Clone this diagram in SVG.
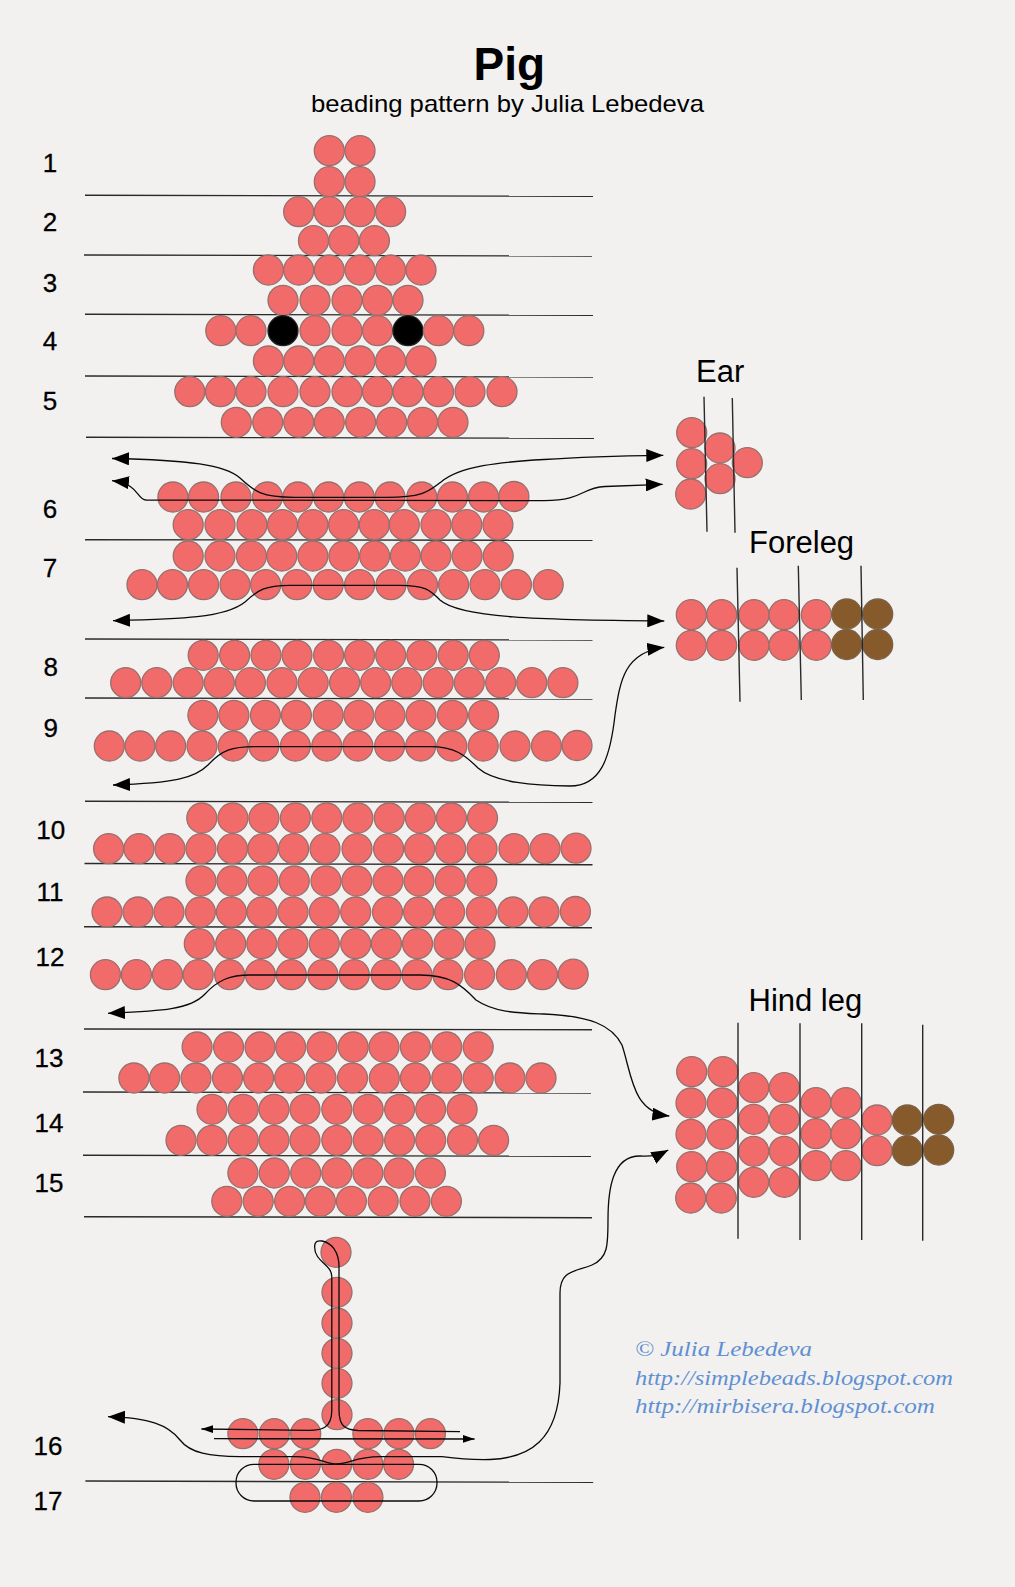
<svg xmlns="http://www.w3.org/2000/svg" width="1015" height="1587" viewBox="0 0 1015 1587">
<style>
text{font-family:"Liberation Sans",Arial,sans-serif;fill:#000}
.h{font-size:31px}
.n{font-size:26px;text-anchor:middle;stroke:#000;stroke-width:.3}
.s{font-family:"Liberation Serif","DejaVu Serif",serif;font-style:italic;font-size:22px;fill:#5f90d2}
circle{stroke-width:1.3}
.b{fill:#f16b6b;stroke:#96706c}
.k{fill:#000;stroke:#222}
.w{fill:#875a2c;stroke:#7a6248}
.l{stroke:#2a2a2a;stroke-width:1.4;fill:none}
.t{stroke:#0a0a0a;stroke-width:1.3;fill:none}
</style>
<defs>
<marker id="big" viewBox="0 0 17 13" refX="17" refY="6.5" markerWidth="17" markerHeight="13" markerUnits="userSpaceOnUse" orient="auto-start-reverse"><path d="M0,0L17,6.5L0,13z" fill="#000"/></marker>
<marker id="sm" viewBox="0 0 12 8" refX="12" refY="4" markerWidth="12" markerHeight="8" markerUnits="userSpaceOnUse" orient="auto-start-reverse"><path d="M0,0L12,4L0,8z" fill="#000"/></marker>
</defs>
<rect width="1015" height="1587" fill="#f2f1f0"/>
<g id="title">
<text x="473.5" y="80" font-size="46" font-weight="bold">Pig</text>
<text x="311" y="112" font-size="24" textLength="393" lengthAdjust="spacingAndGlyphs">beading pattern by Julia Lebedeva</text>
</g>
<g id="row-numbers" class="nums">
<text class="n" x="50" y="172">1</text>
<text class="n" x="50" y="231">2</text>
<text class="n" x="50" y="292">3</text>
<text class="n" x="50" y="350">4</text>
<text class="n" x="50" y="410">5</text>
<text class="n" x="50" y="517.5">6</text>
<text class="n" x="50" y="577">7</text>
<text class="n" x="50.7" y="676">8</text>
<text class="n" x="50.7" y="737">9</text>
<text class="n" x="50.7" y="838.5">10</text>
<text class="n" x="50" y="901">11</text>
<text class="n" x="50" y="966">12</text>
<text class="n" x="49" y="1067">13</text>
<text class="n" x="49" y="1132">14</text>
<text class="n" x="49" y="1192">15</text>
<text class="n" x="48" y="1455">16</text>
<text class="n" x="48" y="1510">17</text>
</g>
<g id="row-lines">
<line class="l" x1="85" y1="195.3" x2="593" y2="196.3"/>
<line class="l" x1="84" y1="255" x2="592" y2="256"/>
<line class="l" x1="85" y1="314.3" x2="593" y2="315.3"/>
<line class="l" x1="85" y1="376" x2="593" y2="377"/>
<line class="l" x1="86" y1="437.3" x2="594" y2="438.3"/>
<line class="l" x1="85" y1="539.7" x2="592.5" y2="540.3"/>
<line class="l" x1="85" y1="639" x2="592.5" y2="640"/>
<line class="l" x1="85" y1="698" x2="592.5" y2="699"/>
<line class="l" x1="85" y1="801.3" x2="592.5" y2="802.3"/>
<line class="l" x1="84.5" y1="863.5" x2="592.5" y2="864.7"/>
<line class="l" x1="84" y1="926.7" x2="592" y2="927.7"/>
<line class="l" x1="84" y1="1029" x2="592" y2="1029.7"/>
<line class="l" x1="83" y1="1092" x2="591" y2="1093"/>
<line class="l" x1="83" y1="1155.3" x2="591" y2="1156.3"/>
<line class="l" x1="84" y1="1216.7" x2="592" y2="1217.7"/>
<line class="l" x1="85.4" y1="1481" x2="593.2" y2="1482.3"/>
</g>
<g id="body" class="beads">
<g id="row1">
<circle class="b" cx="329.3" cy="150.7" r="15"/><circle class="b" cx="360" cy="150.7" r="15"/>
<circle class="b" cx="329.3" cy="181.7" r="15"/><circle class="b" cx="360" cy="181.7" r="15"/>
</g>
<g id="row2">
<circle class="b" cx="298.7" cy="211.7" r="15"/><circle class="b" cx="329.3" cy="211.7" r="15"/><circle class="b" cx="360" cy="211.7" r="15"/><circle class="b" cx="390.6" cy="211.7" r="15"/>
<circle class="b" cx="313.5" cy="240.7" r="15"/><circle class="b" cx="343.8" cy="240.7" r="15"/><circle class="b" cx="374.4" cy="240.7" r="15"/>
</g>
<g id="row3">
<circle class="b" cx="268.4" cy="270" r="15"/><circle class="b" cx="298.7" cy="270" r="15"/><circle class="b" cx="329.3" cy="270" r="15"/><circle class="b" cx="360" cy="270" r="15"/><circle class="b" cx="390.6" cy="270" r="15"/><circle class="b" cx="421" cy="270" r="15"/>
<circle class="b" cx="283" cy="300.3" r="15"/><circle class="b" cx="315" cy="300.3" r="15"/><circle class="b" cx="347" cy="300.3" r="15"/><circle class="b" cx="377.5" cy="300.3" r="15"/><circle class="b" cx="408" cy="300.3" r="15"/>
</g>
<g id="row4">
<circle class="b" cx="220.8" cy="330.7" r="15"/><circle class="b" cx="251" cy="330.7" r="15"/><circle class="k" cx="283" cy="330.7" r="15"/><circle class="b" cx="315" cy="330.7" r="15"/><circle class="b" cx="347" cy="330.7" r="15"/><circle class="b" cx="377.5" cy="330.7" r="15"/><circle class="k" cx="408" cy="330.7" r="15"/><circle class="b" cx="438.5" cy="330.7" r="15"/><circle class="b" cx="468.8" cy="330.7" r="15"/>
<circle class="b" cx="268.4" cy="361" r="15"/><circle class="b" cx="298.7" cy="361" r="15"/><circle class="b" cx="329.3" cy="361" r="15"/><circle class="b" cx="360" cy="361" r="15"/><circle class="b" cx="390.6" cy="361" r="15"/><circle class="b" cx="421" cy="361" r="15"/>
</g>
<g id="row5">
<circle class="b" cx="189.8" cy="391.7" r="15"/><circle class="b" cx="220.5" cy="391.7" r="15"/><circle class="b" cx="251" cy="391.7" r="15"/><circle class="b" cx="283" cy="391.7" r="15"/><circle class="b" cx="315" cy="391.7" r="15"/><circle class="b" cx="347" cy="391.7" r="15"/><circle class="b" cx="377.5" cy="391.7" r="15"/><circle class="b" cx="408" cy="391.7" r="15"/><circle class="b" cx="438.5" cy="391.7" r="15"/><circle class="b" cx="470" cy="391.7" r="15"/><circle class="b" cx="502" cy="391.7" r="15"/>
<circle class="b" cx="236.3" cy="422.3" r="15"/><circle class="b" cx="267.7" cy="422.3" r="15"/><circle class="b" cx="298.7" cy="422.3" r="15"/><circle class="b" cx="329.3" cy="422.3" r="15"/><circle class="b" cx="360.6" cy="422.3" r="15"/><circle class="b" cx="391.6" cy="422.3" r="15"/><circle class="b" cx="422.6" cy="422.3" r="15"/><circle class="b" cx="453" cy="422.3" r="15"/>
</g>
<g id="row6">
<circle class="b" cx="172.9" cy="497" r="15"/><circle class="b" cx="203.6" cy="497" r="15"/><circle class="b" cx="236" cy="497" r="15"/><circle class="b" cx="267.5" cy="497" r="15"/><circle class="b" cx="297.9" cy="497" r="15"/><circle class="b" cx="328.6" cy="497" r="15"/><circle class="b" cx="359.3" cy="497" r="15"/><circle class="b" cx="390" cy="497" r="15"/><circle class="b" cx="421.8" cy="497" r="15"/><circle class="b" cx="452.5" cy="497" r="15"/><circle class="b" cx="483.6" cy="497" r="15"/><circle class="b" cx="513.9" cy="496.5" r="15"/>
<circle class="b" cx="188.2" cy="524.7" r="15"/><circle class="b" cx="220" cy="524.7" r="15"/><circle class="b" cx="252" cy="524.7" r="15"/><circle class="b" cx="282.5" cy="524.7" r="15"/><circle class="b" cx="312.9" cy="524.7" r="15"/><circle class="b" cx="343.6" cy="524.7" r="15"/><circle class="b" cx="374.3" cy="524.7" r="15"/><circle class="b" cx="404.3" cy="524.7" r="15"/><circle class="b" cx="436" cy="524.7" r="15"/><circle class="b" cx="466.8" cy="524.7" r="15"/><circle class="b" cx="497.9" cy="524.7" r="15"/>
</g>
<g id="row7">
<circle class="b" cx="188.2" cy="556" r="15"/><circle class="b" cx="220" cy="556" r="15"/><circle class="b" cx="251.4" cy="556" r="15"/><circle class="b" cx="281.8" cy="556" r="15"/><circle class="b" cx="312.9" cy="556" r="15"/><circle class="b" cx="343.9" cy="556" r="15"/><circle class="b" cx="374.6" cy="556" r="15"/><circle class="b" cx="405.4" cy="556" r="15"/><circle class="b" cx="436" cy="556" r="15"/><circle class="b" cx="467.1" cy="556" r="15"/><circle class="b" cx="498.2" cy="556" r="15"/>
<circle class="b" cx="142" cy="584.7" r="15"/><circle class="b" cx="172.5" cy="584.7" r="15"/><circle class="b" cx="203.6" cy="584.7" r="15"/><circle class="b" cx="235" cy="584.7" r="15"/><circle class="b" cx="265.7" cy="584.7" r="15"/><circle class="b" cx="296.8" cy="584.7" r="15"/><circle class="b" cx="328.2" cy="584.7" r="15"/><circle class="b" cx="359.6" cy="584.7" r="15"/><circle class="b" cx="391" cy="584.7" r="15"/><circle class="b" cx="422.5" cy="584.7" r="15"/><circle class="b" cx="453.6" cy="584.7" r="15"/><circle class="b" cx="485" cy="584.7" r="15"/><circle class="b" cx="516.4" cy="584.7" r="15"/><circle class="b" cx="548.2" cy="584.7" r="15"/>
</g>
<g id="row8">
<circle class="b" cx="203.2" cy="655.3" r="15"/><circle class="b" cx="234.6" cy="655.3" r="15"/><circle class="b" cx="266" cy="655.3" r="15"/><circle class="b" cx="297" cy="655.3" r="15"/><circle class="b" cx="328.6" cy="655.3" r="15"/><circle class="b" cx="359.6" cy="655.3" r="15"/><circle class="b" cx="390.7" cy="655.3" r="15"/><circle class="b" cx="421.8" cy="655.3" r="15"/><circle class="b" cx="453.2" cy="655.3" r="15"/><circle class="b" cx="484.3" cy="655.3" r="15"/>
<circle class="b" cx="125.7" cy="682.7" r="15"/><circle class="b" cx="156.8" cy="682.7" r="15"/><circle class="b" cx="188.2" cy="682.7" r="15"/><circle class="b" cx="219.3" cy="682.7" r="15"/><circle class="b" cx="250.4" cy="682.7" r="15"/><circle class="b" cx="282" cy="682.7" r="15"/><circle class="b" cx="313.2" cy="682.7" r="15"/><circle class="b" cx="344.6" cy="682.7" r="15"/><circle class="b" cx="375.7" cy="682.7" r="15"/><circle class="b" cx="406.8" cy="682.7" r="15"/><circle class="b" cx="438.2" cy="682.7" r="15"/><circle class="b" cx="469.3" cy="682.7" r="15"/><circle class="b" cx="500.7" cy="682.7" r="15"/><circle class="b" cx="531.8" cy="682.7" r="15"/><circle class="b" cx="562.9" cy="682.7" r="15"/>
</g>
<g id="row9">
<circle class="b" cx="202.9" cy="715.3" r="15"/><circle class="b" cx="233.9" cy="715.3" r="15"/><circle class="b" cx="265.4" cy="715.3" r="15"/><circle class="b" cx="296.4" cy="715.3" r="15"/><circle class="b" cx="328.2" cy="715.3" r="15"/><circle class="b" cx="358.9" cy="715.3" r="15"/><circle class="b" cx="390" cy="715.3" r="15"/><circle class="b" cx="421" cy="715.3" r="15"/><circle class="b" cx="452.5" cy="715.3" r="15"/><circle class="b" cx="483.6" cy="715.3" r="15"/>
<circle class="b" cx="109.3" cy="746" r="15"/><circle class="b" cx="140" cy="746" r="15"/><circle class="b" cx="170.7" cy="746" r="15"/><circle class="b" cx="202" cy="746" r="15"/><circle class="b" cx="233.2" cy="746" r="15"/><circle class="b" cx="263.9" cy="746" r="15"/><circle class="b" cx="295.4" cy="746" r="15"/><circle class="b" cx="326.8" cy="746" r="15"/><circle class="b" cx="357.9" cy="746" r="15"/><circle class="b" cx="389.6" cy="746" r="15"/><circle class="b" cx="420.7" cy="746" r="15"/><circle class="b" cx="451.8" cy="746" r="15"/><circle class="b" cx="483.2" cy="746" r="15"/><circle class="b" cx="515" cy="746" r="15"/><circle class="b" cx="546.4" cy="746" r="15"/><circle class="b" cx="577" cy="745.5" r="15"/>
</g>
<g id="row10">
<circle class="b" cx="201.8" cy="818" r="15"/><circle class="b" cx="232.9" cy="818" r="15"/><circle class="b" cx="263.9" cy="818" r="15"/><circle class="b" cx="295.4" cy="818" r="15"/><circle class="b" cx="326.8" cy="818" r="15"/><circle class="b" cx="357.9" cy="818" r="15"/><circle class="b" cx="389.3" cy="818" r="15"/><circle class="b" cx="420.4" cy="818" r="15"/><circle class="b" cx="451.4" cy="818" r="15"/><circle class="b" cx="482.5" cy="818" r="15"/>
<circle class="b" cx="108.6" cy="848.7" r="15"/><circle class="b" cx="139" cy="848.7" r="15"/><circle class="b" cx="170" cy="848.7" r="15"/><circle class="b" cx="201" cy="848.7" r="15"/><circle class="b" cx="232.5" cy="848.7" r="15"/><circle class="b" cx="262.9" cy="848.7" r="15"/><circle class="b" cx="293.6" cy="848.7" r="15"/><circle class="b" cx="325" cy="848.7" r="15"/><circle class="b" cx="357" cy="848.7" r="15"/><circle class="b" cx="388.6" cy="848.7" r="15"/><circle class="b" cx="419.6" cy="848.7" r="15"/><circle class="b" cx="450.7" cy="848.7" r="15"/><circle class="b" cx="482" cy="848.7" r="15"/><circle class="b" cx="514" cy="848.7" r="15"/><circle class="b" cx="545" cy="848.7" r="15"/><circle class="b" cx="576" cy="848.2" r="15"/>
</g>
<g id="row11">
<circle class="b" cx="201" cy="881" r="15"/><circle class="b" cx="232" cy="881" r="15"/><circle class="b" cx="263" cy="881" r="15"/><circle class="b" cx="294.3" cy="881" r="15"/><circle class="b" cx="326" cy="881" r="15"/><circle class="b" cx="356.8" cy="881" r="15"/><circle class="b" cx="388" cy="881" r="15"/><circle class="b" cx="419" cy="881" r="15"/><circle class="b" cx="450.4" cy="881" r="15"/><circle class="b" cx="481.8" cy="881" r="15"/>
<circle class="b" cx="107" cy="912" r="15"/><circle class="b" cx="138" cy="912" r="15"/><circle class="b" cx="169" cy="912" r="15"/><circle class="b" cx="200.4" cy="912" r="15"/><circle class="b" cx="231.4" cy="912" r="15"/><circle class="b" cx="262" cy="912" r="15"/><circle class="b" cx="293" cy="912" r="15"/><circle class="b" cx="324.3" cy="912" r="15"/><circle class="b" cx="355.7" cy="912" r="15"/><circle class="b" cx="387.5" cy="912" r="15"/><circle class="b" cx="418.6" cy="912" r="15"/><circle class="b" cx="449.6" cy="912" r="15"/><circle class="b" cx="481.4" cy="912" r="15"/><circle class="b" cx="512.9" cy="912" r="15"/><circle class="b" cx="544" cy="912" r="15"/><circle class="b" cx="575.4" cy="911.5" r="15"/>
</g>
<g id="row12">
<circle class="b" cx="199.3" cy="943.7" r="15"/><circle class="b" cx="230.7" cy="943.7" r="15"/><circle class="b" cx="261.8" cy="943.7" r="15"/><circle class="b" cx="292.9" cy="943.7" r="15"/><circle class="b" cx="324.3" cy="943.7" r="15"/><circle class="b" cx="355.7" cy="943.7" r="15"/><circle class="b" cx="386.4" cy="943.7" r="15"/><circle class="b" cx="417.5" cy="943.7" r="15"/><circle class="b" cx="449" cy="943.7" r="15"/><circle class="b" cx="480" cy="943.7" r="15"/>
<circle class="b" cx="105.4" cy="974.7" r="15"/><circle class="b" cx="136.4" cy="974.7" r="15"/><circle class="b" cx="167.5" cy="974.7" r="15"/><circle class="b" cx="198.2" cy="974.7" r="15"/><circle class="b" cx="229.6" cy="974.7" r="15"/><circle class="b" cx="260.4" cy="974.7" r="15"/><circle class="b" cx="291.4" cy="974.7" r="15"/><circle class="b" cx="322.9" cy="974.7" r="15"/><circle class="b" cx="354.3" cy="974.7" r="15"/><circle class="b" cx="386" cy="974.7" r="15"/><circle class="b" cx="417" cy="974.7" r="15"/><circle class="b" cx="447.9" cy="974.7" r="15"/><circle class="b" cx="479.6" cy="974.7" r="15"/><circle class="b" cx="511.4" cy="974.7" r="15"/><circle class="b" cx="542.5" cy="974.7" r="15"/><circle class="b" cx="573.2" cy="974.2" r="15"/>
</g>
<g id="row13">
<circle class="b" cx="197.1" cy="1047" r="15"/><circle class="b" cx="228.6" cy="1047" r="15"/><circle class="b" cx="260" cy="1047" r="15"/><circle class="b" cx="290.7" cy="1047" r="15"/><circle class="b" cx="322" cy="1047" r="15"/><circle class="b" cx="353.2" cy="1047" r="15"/><circle class="b" cx="384" cy="1047" r="15"/><circle class="b" cx="415.4" cy="1047" r="15"/><circle class="b" cx="446.8" cy="1047" r="15"/><circle class="b" cx="478.2" cy="1047" r="15"/>
<circle class="b" cx="133.9" cy="1078" r="15"/><circle class="b" cx="164.6" cy="1078" r="15"/><circle class="b" cx="196" cy="1078" r="15"/><circle class="b" cx="227.5" cy="1078" r="15"/><circle class="b" cx="258.6" cy="1078" r="15"/><circle class="b" cx="289.6" cy="1078" r="15"/><circle class="b" cx="321" cy="1078" r="15"/><circle class="b" cx="352.5" cy="1078" r="15"/><circle class="b" cx="384.3" cy="1078" r="15"/><circle class="b" cx="415.4" cy="1078" r="15"/><circle class="b" cx="446.8" cy="1078" r="15"/><circle class="b" cx="478.2" cy="1078" r="15"/><circle class="b" cx="510" cy="1078" r="15"/><circle class="b" cx="541" cy="1078" r="15"/>
</g>
<g id="row14">
<circle class="b" cx="212" cy="1109.3" r="15"/><circle class="b" cx="243.2" cy="1109.3" r="15"/><circle class="b" cx="274" cy="1109.3" r="15"/><circle class="b" cx="305" cy="1109.3" r="15"/><circle class="b" cx="336.8" cy="1109.3" r="15"/><circle class="b" cx="368.2" cy="1109.3" r="15"/><circle class="b" cx="399.6" cy="1109.3" r="15"/><circle class="b" cx="430.7" cy="1109.3" r="15"/><circle class="b" cx="462.1" cy="1109.3" r="15"/>
<circle class="b" cx="181" cy="1140.3" r="15"/><circle class="b" cx="212" cy="1140.3" r="15"/><circle class="b" cx="243.2" cy="1140.3" r="15"/><circle class="b" cx="274" cy="1140.3" r="15"/><circle class="b" cx="305" cy="1140.3" r="15"/><circle class="b" cx="336.8" cy="1140.3" r="15"/><circle class="b" cx="368.2" cy="1140.3" r="15"/><circle class="b" cx="399.6" cy="1140.3" r="15"/><circle class="b" cx="430.7" cy="1140.3" r="15"/><circle class="b" cx="462.5" cy="1140.3" r="15"/><circle class="b" cx="493.6" cy="1140.3" r="15"/>
</g>
<g id="row15">
<circle class="b" cx="242.9" cy="1173" r="15"/><circle class="b" cx="274.3" cy="1173" r="15"/><circle class="b" cx="305.7" cy="1173" r="15"/><circle class="b" cx="336.8" cy="1173" r="15"/><circle class="b" cx="367.9" cy="1173" r="15"/><circle class="b" cx="399" cy="1173" r="15"/><circle class="b" cx="430.4" cy="1173" r="15"/>
<circle class="b" cx="226.8" cy="1201.3" r="15"/><circle class="b" cx="258.2" cy="1201.3" r="15"/><circle class="b" cx="289.6" cy="1201.3" r="15"/><circle class="b" cx="320.4" cy="1201.3" r="15"/><circle class="b" cx="351.4" cy="1201.3" r="15"/><circle class="b" cx="383.2" cy="1201.3" r="15"/><circle class="b" cx="415" cy="1201.3" r="15"/><circle class="b" cx="446.4" cy="1201.3" r="15"/>
</g>
<g id="tail">
<circle class="b" cx="336" cy="1252.3" r="15"/><circle class="b" cx="337" cy="1292.3" r="15"/><circle class="b" cx="337" cy="1323" r="15"/><circle class="b" cx="337" cy="1353.3" r="15"/><circle class="b" cx="337" cy="1383.3" r="15"/><circle class="b" cx="337" cy="1414.7" r="15"/>
</g>
<g id="row16">
<circle class="b" cx="242.9" cy="1433.7" r="15"/><circle class="b" cx="274.3" cy="1433.7" r="15"/><circle class="b" cx="305.7" cy="1433.7" r="15"/><circle class="b" cx="367.9" cy="1433.7" r="15"/><circle class="b" cx="399" cy="1433.7" r="15"/><circle class="b" cx="430.4" cy="1433.7" r="15"/>
<circle class="b" cx="273.9" cy="1464.3" r="15"/><circle class="b" cx="305.4" cy="1464.3" r="15"/><circle class="b" cx="336.8" cy="1464.3" r="15"/><circle class="b" cx="367.9" cy="1464.3" r="15"/><circle class="b" cx="398.6" cy="1464.3" r="15"/>
</g>
<g id="row17">
<circle class="b" cx="305" cy="1497.3" r="15"/><circle class="b" cx="336.4" cy="1497.3" r="15"/><circle class="b" cx="367.9" cy="1497.3" r="15"/>
</g>
</g>
<g id="ear">
<circle class="b" cx="691.7" cy="432.7" r="15"/><circle class="b" cx="691.7" cy="463.7" r="15"/><circle class="b" cx="690.7" cy="494" r="15"/><circle class="b" cx="720" cy="448" r="15"/><circle class="b" cx="720" cy="478.7" r="15"/><circle class="b" cx="747.3" cy="462.7" r="15"/>
<line class="l" x1="704" y1="396.7" x2="707" y2="531.7"/><line class="l" x1="732.3" y1="398" x2="735" y2="532.7"/>
<text class="h" x="696" y="381.7">Ear</text>
</g>
<g id="foreleg">
<circle class="b" cx="691.3" cy="614.7" r="15"/><circle class="b" cx="721.7" cy="614.7" r="15"/><circle class="b" cx="754" cy="614.7" r="15"/><circle class="b" cx="784" cy="614.7" r="15"/><circle class="b" cx="816.3" cy="614.7" r="15"/><circle class="w" cx="846.7" cy="614" r="15"/><circle class="w" cx="877.7" cy="614" r="15"/>
<circle class="b" cx="691.3" cy="645.3" r="15"/><circle class="b" cx="721.7" cy="645.3" r="15"/><circle class="b" cx="754" cy="645.3" r="15"/><circle class="b" cx="784" cy="645.3" r="15"/><circle class="b" cx="816.3" cy="645.3" r="15"/><circle class="w" cx="846.7" cy="644.5" r="15"/><circle class="w" cx="877.7" cy="644.5" r="15"/>
<line class="l" x1="737" y1="567.7" x2="740" y2="701.7"/><line class="l" x1="798.3" y1="565.7" x2="801.3" y2="700"/><line class="l" x1="861" y1="565.7" x2="863.3" y2="700"/>
<text class="h" x="749" y="553.3">Foreleg</text>
</g>
<g id="hindleg">
<circle class="b" cx="691.7" cy="1071.7" r="15"/><circle class="b" cx="723" cy="1071.7" r="15"/><circle class="b" cx="691" cy="1103" r="15"/><circle class="b" cx="722.3" cy="1103" r="15"/><circle class="b" cx="691" cy="1134.3" r="15"/><circle class="b" cx="722" cy="1134.3" r="15"/><circle class="b" cx="691.7" cy="1166.7" r="15"/><circle class="b" cx="721.7" cy="1166.7" r="15"/><circle class="b" cx="690.7" cy="1198" r="15"/><circle class="b" cx="721.3" cy="1198" r="15"/>
<circle class="b" cx="753.7" cy="1087.7" r="15"/><circle class="b" cx="784.3" cy="1087.7" r="15"/><circle class="b" cx="753.7" cy="1119.3" r="15"/><circle class="b" cx="784.3" cy="1119.3" r="15"/><circle class="b" cx="753.7" cy="1151.3" r="15"/><circle class="b" cx="784.3" cy="1151.3" r="15"/><circle class="b" cx="753.7" cy="1182.3" r="15"/><circle class="b" cx="784.3" cy="1182.3" r="15"/>
<circle class="b" cx="816" cy="1102.7" r="15"/><circle class="b" cx="846" cy="1102.7" r="15"/><circle class="b" cx="816" cy="1133.7" r="15"/><circle class="b" cx="846" cy="1133.7" r="15"/><circle class="b" cx="816" cy="1165.7" r="15"/><circle class="b" cx="846" cy="1165.7" r="15"/>
<circle class="b" cx="877" cy="1120" r="15"/><circle class="b" cx="877" cy="1150.7" r="15"/><circle class="w" cx="907.3" cy="1120" r="15"/><circle class="w" cx="907.3" cy="1150.7" r="15"/><circle class="w" cx="938.7" cy="1119.3" r="15"/><circle class="w" cx="938.7" cy="1150" r="15"/>
<line class="l" x1="738" y1="1022.7" x2="738" y2="1238.7"/><line class="l" x1="800" y1="1023.3" x2="800" y2="1240"/><line class="l" x1="861.7" y1="1023.3" x2="861.7" y2="1240"/><line class="l" x1="922.7" y1="1024.7" x2="922.7" y2="1240.7"/>
<text class="h" x="748.5" y="1010.7">Hind leg</text>
</g>
<g id="connectors">
<path class="t" marker-start="url(#big)" marker-end="url(#big)" d="M112,458.5C190,460 225,465 240,478C255,492 262,497.3 294,497.3L387,497.3C425,497.3 430,490 441,482C460,466 500,462 544,459.5C580,457 610,456 663.3,455.3"/>
<path class="t" marker-start="url(#big)" marker-end="url(#big)" d="M112,480.7C140,484 136,499 146,500L544,500.7C585,500 580,488 605,486.5L662.7,484.3"/>
<path class="t" marker-start="url(#big)" marker-end="url(#big)" d="M113,620.7C180,619 225,618 245,602C258,590 265,585.3 290,585.3L400,585.3C425,585.3 430,590 440,600C460,618 540,620 664.3,621"/>
<path class="t" marker-start="url(#big)" marker-end="url(#big)" d="M113,785C175,783 195,778 208,765C222,750 232,746.7 255,746.7L430,746.7C455,746.7 465,755 478,768C495,783 535,785.5 570,786C600,786 610,760 615,715C620,680 625,652 664.3,647.3"/>
<path class="t" marker-start="url(#big)" marker-end="url(#big)" d="M108,1013.3C160,1011 190,1010 205,994C218,980 230,975 250,975L420,975C450,975 462,985 476,1000C495,1013 520,1013 544,1014C590,1016 612,1025 622,1045C632,1075 632,1112 669.3,1116"/>
<path class="t" marker-start="url(#big)" marker-end="url(#big)" d="M108,1416.7C150,1418 168,1425 180,1440C190,1453 210,1456.7 240,1456.7L295,1456.7C320,1457 325,1464 337,1464C350,1464 355,1456.7 380,1456.7L442,1456.7C460,1459 470,1460 490,1459.5C530,1458 558,1440 560,1383L560,1293C560,1270 575,1272 592,1265C608,1258 608,1245 608,1220C608,1190 612,1156 640,1156C650,1156 655,1157 668.3,1150"/>
<path class="t" marker-start="url(#sm)" d="M201.4,1429L308,1430.3C322,1430.5 331.8,1428 331.8,1410L331.8,1276.7C331.8,1264 314.6,1262 314.6,1247C314.6,1241 318,1240.5 322,1241C332,1243 339,1252 339,1266.7L339,1410C339,1426 345,1430 358,1430.5L460,1431.7"/>
<path class="t" marker-end="url(#sm)" d="M214,1438.7L474.6,1439"/>
<rect class="t" x="236" y="1464.3" width="201" height="36.7" rx="18" ry="18"/>
</g>
<g id="credits">
<text class="s" x="635" y="1356" textLength="177" lengthAdjust="spacingAndGlyphs">© Julia Lebedeva</text>
<text class="s" x="635" y="1385" textLength="318" lengthAdjust="spacingAndGlyphs">http://simplebeads.blogspot.com</text>
<text class="s" x="635" y="1412.7" textLength="300" lengthAdjust="spacingAndGlyphs">http://mirbisera.blogspot.com</text>
</g>
</svg>
